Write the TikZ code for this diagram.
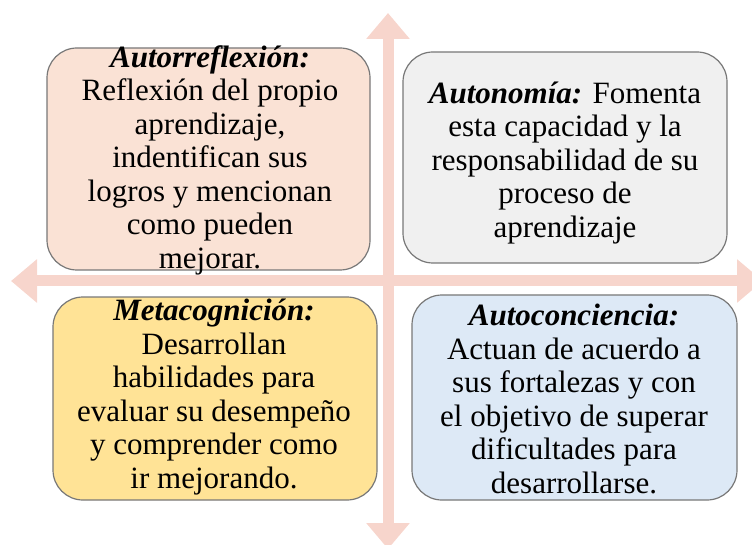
\documentclass[tikz,border=0pt]{standalone}
\usepackage{fontspec}
\setmainfont{Liberation Serif}
\usepackage{xcolor}
\usetikzlibrary{arrows.meta,positioning}

\definecolor{flecha}{RGB}{247,213,204}
\definecolor{borde}{RGB}{120,120,120}
\definecolor{durazno}{RGB}{250,226,213}
\definecolor{grisclaro}{RGB}{240,240,240}
\definecolor{amarillo}{RGB}{255,227,150}
\definecolor{celeste}{RGB}{221,233,246}

\tikzset{
    caja/.style={draw=borde, line width=1.2pt, rounded corners=30pt, inner sep=0pt},
    texto/.style={align=center, font=\fontsize{31}{33.5}\selectfont, inner sep=0pt},
    cruz/.style={draw=flecha, line width=11pt,
        {Triangle[length=26pt,width=42pt]}-{Triangle[length=26pt,width=42pt]}},
}
\newcommand{\titulo}[1]{\textbf{\textit{#1}}}

\begin{document}
\begin{tikzpicture}[x=1pt,y=-1pt]
                \useasboundingbox (0,0) rectangle (752,545);
                \clip (0,0) rectangle (752,545);

                % ejes
                \coordinate (izq) at (11,281);
                \coordinate (der) at (763,281);
                \coordinate (arriba) at (388,13);
                \coordinate (abajo) at (388,549);
                \draw[cruz] (izq) -- (der);
                \draw[cruz] (arriba) -- (abajo);

                % cuadrantes
                \node[caja, fill=durazno, minimum width=323pt, minimum height=222pt] (reflexion) at (208.5,159) {};
                \node[caja, fill=grisclaro, minimum width=324pt, minimum height=211pt] (autonomia) at (565,157.5) {};
                \node[caja, fill=amarillo, minimum width=324pt, minimum height=203pt] (metacog) at (215,398.5) {};
                \node[caja, fill=celeste, minimum width=325pt, minimum height=205pt] (conciencia) at (574.5,397.5) {};

                \node[texto] (reflexionT) at (210,160) {\titulo{Autorreflexión:}\\Reflexión del propio\\aprendizaje,\\indentifican sus\\logros y mencionan\\como pueden\\mejorar.};
                \node[texto] (autonomiaT) at (565,163) {\titulo{Autonomía:} Fomenta\\esta capacidad y la\\responsabilidad de su\\proceso de\\aprendizaje};
                \node[texto] (metacogT) at (214,397) {\titulo{Metacognición:}\\Desarrollan\\habilidades para\\evaluar su desempeño\\y comprender como\\ir mejorando.};
                \node[texto] (concienciaT) at (574,399) {\titulo{Autoconciencia:}\\Actuan de acuerdo a\\sus fortalezas y con\\el objetivo de superar\\dificultades para\\desarrollarse.};
            \end{tikzpicture}
\end{document}
